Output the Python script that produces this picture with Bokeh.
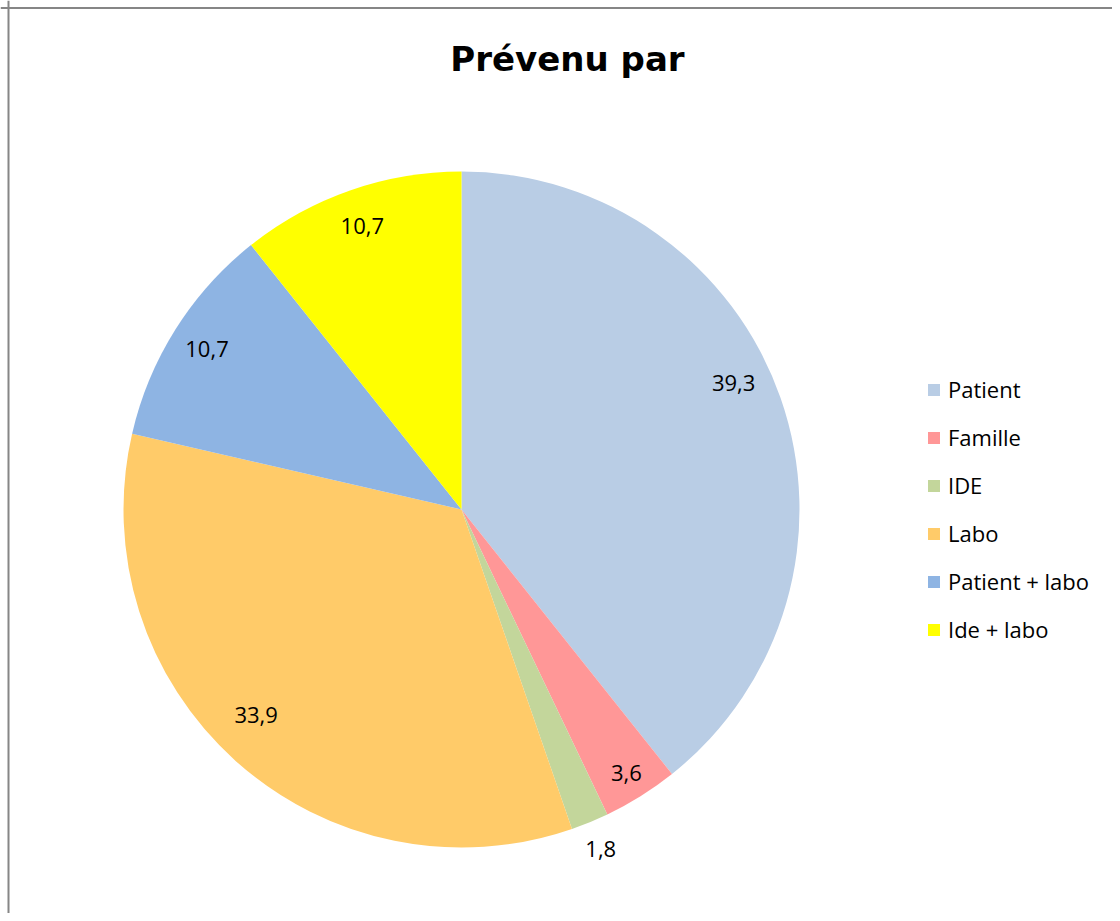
import math
from bokeh.plotting import figure
from bokeh.models import Range1d, Span, Legend, LegendItem, ColumnDataSource
from bokeh.core.properties import value
from bokeh.embed import file_html
from bokeh.resources import INLINE

title_text = "Prévenu par"
categories = ["Patient", "Famille", "IDE", "Labo", "Patient + labo", "Ide + labo"]
values = [39.3, 3.6, 1.8, 33.9, 10.7, 10.7]
value_labels = ["39,3", "3,6", "1,8", "33,9", "10,7", "10,7"]
colors = ["#B9CDE5", "#FF9797", "#C3D69B", "#FFCB69", "#8EB4E3", "#FFFF00"]
# label placement styling (fraction of radius, angular nudge in degrees)
label_radius_frac = [0.888, 0.92, 1.085, 0.86, 0.89, 0.89]
label_angle_nudge = [5.7, 0, 0, -3.0, 0, 0]

W, H = 1112, 913
p = figure(width=W, height=H, output_backend="svg", toolbar_location=None,
           x_range=Range1d(0, W), y_range=Range1d(0, H), min_border=0,
           outline_line_color=None, background_fill_color="white")
p.axis.visible = False
p.grid.visible = False

cx, cy, R = 461, 404, 338
total = sum(values)
starts, ends, lx, ly = [], [], [], []
cum = 0.0
for v, f, nud in zip(values, label_radius_frac, label_angle_nudge):
    a0 = math.pi / 2 - 2 * math.pi * cum / total
    a1 = math.pi / 2 - 2 * math.pi * (cum + v) / total
    starts.append(a0)
    ends.append(a1)
    mid = (a0 + a1) / 2 + math.radians(nud)
    lx.append(cx + f * R * math.cos(mid))
    ly.append(cy + f * R * math.sin(mid))
    cum += v

src = ColumnDataSource(dict(start=starts, end=ends, color=colors, cat=categories,
                            lx=lx, ly=ly, lab=value_labels))
w = p.wedge(x=cx, y=cy, radius=R, start_angle="start", end_angle="end",
            direction="clock", fill_color="color", line_color=None, source=src)

p.text(x="lx", y="ly", text="lab", source=src, text_align="center",
       text_baseline="middle", text_font=value("Open Sans"),
       text_font_size="22px", text_color="black")

p.text(x=[567], y=[855], text=[title_text], text_align="center",
       text_baseline="middle", text_font=value("DejaVu Sans"),
       text_font_style="bold", text_font_size="34px", text_color="black")

# chart border (left and top visible edges)
p.add_layout(Span(location=8, dimension="height", line_color="#868686", line_width=2))
p.add_layout(Span(location=H - 7.5, dimension="width", line_color="#868686", line_width=2))

items = [LegendItem(label=c, renderers=[w], index=i) for i, c in enumerate(categories)]
legend = Legend(items=items, location=(926, 269), orientation="vertical",
                border_line_color=None, background_fill_alpha=0, padding=0, margin=0,
                glyph_width=15, glyph_height=15, label_standoff=7, spacing=18,
                label_height=30, label_text_font="Open Sans", label_text_font_size="22px",
                label_text_color="black", label_text_baseline="middle")
p.add_layout(legend, "center")

open("out.html", "w").write(file_html(p, INLINE))
